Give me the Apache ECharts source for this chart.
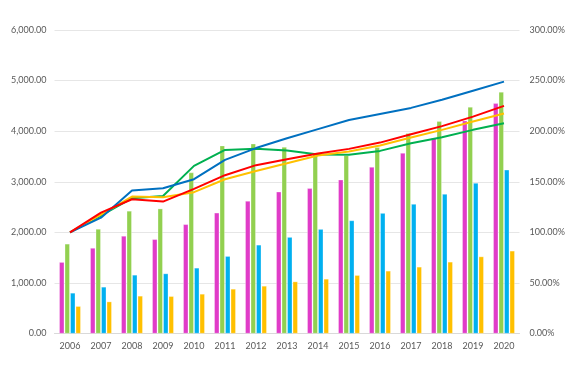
<!DOCTYPE html>
<html>
<head>
<meta charset="utf-8">
<script src="https://cdn.jsdelivr.net/npm/echarts@6/dist/echarts.min.js"></script>
<style>html,body{margin:0;padding:0;background:#fff;}#c{width:574px;height:374px;}</style>
</head>
<body>
<div id="c"></div>
<script>
var categories = ['2006','2007','2008','2009','2010','2011','2012','2013','2014','2015','2016','2017','2018','2019','2020'];

// Bars (left axis)
var barMagenta = [1410, 1690, 1928, 1862, 2158, 2386, 2620, 2802, 2870, 3040, 3291, 3568, 3865, 4208, 4550];
var barGreen   = [1772, 2066, 2423, 2468, 3181, 3713, 3752, 3687, 3554, 3521, 3680, 3957, 4194, 4479, 4776];
var barBlue    = [802, 921, 1158, 1185, 1297, 1528, 1752, 1905, 2063, 2234, 2380, 2558, 2756, 2974, 3235];
var barOrange  = [539, 630, 743, 736, 782, 881, 940, 1026, 1079, 1152, 1238, 1317, 1416, 1521, 1634];

// Lines (right axis, percent)
var lineBlue   = [100, 114.5, 141.3, 143.6, 152.5, 171.6, 183.3, 193, 202, 211, 217, 223, 231, 240, 249];
var lineRed    = [100, 119.5, 132.7, 130.4, 143, 156.5, 166.4, 172.3, 178, 182.5, 188.7, 197, 205, 214.4, 225];
var lineOrange = [100, 117.5, 135.3, 134.7, 139.7, 152.5, 160.7, 168.3, 176, 179.8, 185.8, 193.7, 201.3, 209.5, 217.4];
var lineGreen  = [100, 116.5, 133.7, 136, 165.7, 181.5, 182.5, 180.8, 177, 176.6, 180.5, 188.1, 194, 201.3, 207.9];

var leftTicks = {min: 0, max: 6000, interval: 1000};
var rightTicks = {min: 0, max: 300, interval: 50};

function fmtNum(v) {
  var s = v.toFixed(2);
  var parts = s.split('.');
  parts[0] = parts[0].replace(/\B(?=(\d{3})+(?!\d))/g, ',');
  return parts.join('.');
}

var font = 'Lato';
var labelColor = '#595959';
var fs = 9;

function bar(name, data, color) {
  return {
    name: name, type: 'bar', data: data, yAxisIndex: 0,
    barWidth: 5, barGap: '10%',
    itemStyle: {color: color, borderColor: 'rgba(255,255,255,0.6)', borderWidth: 0.5},
    silent: true
  };
}
function line(name, data, color) {
  return {
    name: name, type: 'line', data: data, yAxisIndex: 1,
    smooth: false, symbol: 'none',
    lineStyle: {color: color, width: 2},
    itemStyle: {color: color},
    silent: true
  };
}

var chart = echarts.init(document.getElementById('c'), null, {renderer: 'canvas'});
chart.setOption({
  animation: false,
  backgroundColor: '#fff',
  grid: {left: 54.5, right: 54.5, top: 30, bottom: 40.5, containLabel: false},
  xAxis: {
    type: 'category', data: categories,
    axisLine: {lineStyle: {color: '#D9D9D9', width: 1}},
    axisTick: {show: false},
    axisLabel: {color: labelColor, fontFamily: font, fontSize: fs, margin: 8, interval: 0}
  },
  yAxis: [
    {
      type: 'value', min: leftTicks.min, max: leftTicks.max, interval: leftTicks.interval,
      axisLine: {show: false}, axisTick: {show: false},
      splitLine: {lineStyle: {color: '#E6E6E6', width: 1}},
      axisLabel: {color: labelColor, fontFamily: font, fontSize: fs, margin: 8, formatter: function(v){return fmtNum(v);}}
    },
    {
      type: 'value', min: rightTicks.min, max: rightTicks.max, interval: rightTicks.interval,
      axisLine: {show: false}, axisTick: {show: false},
      splitLine: {show: false},
      axisLabel: {color: labelColor, fontFamily: font, fontSize: fs, margin: 10, formatter: function(v){return v.toFixed(2) + '%';}}
    }
  ],
  series: [
    bar('A', barMagenta, '#E03CC8'),
    bar('B', barGreen, '#92D050'),
    bar('C', barBlue, '#00B0F0'),
    bar('D', barOrange, '#FFC000'),
    line('E', lineGreen, '#00B050'),
    line('F', lineOrange, '#FFC000'),
    line('G', lineBlue, '#0070C0'),
    line('H', lineRed, '#FF0000')
  ]
});
</script>
</body>
</html>
